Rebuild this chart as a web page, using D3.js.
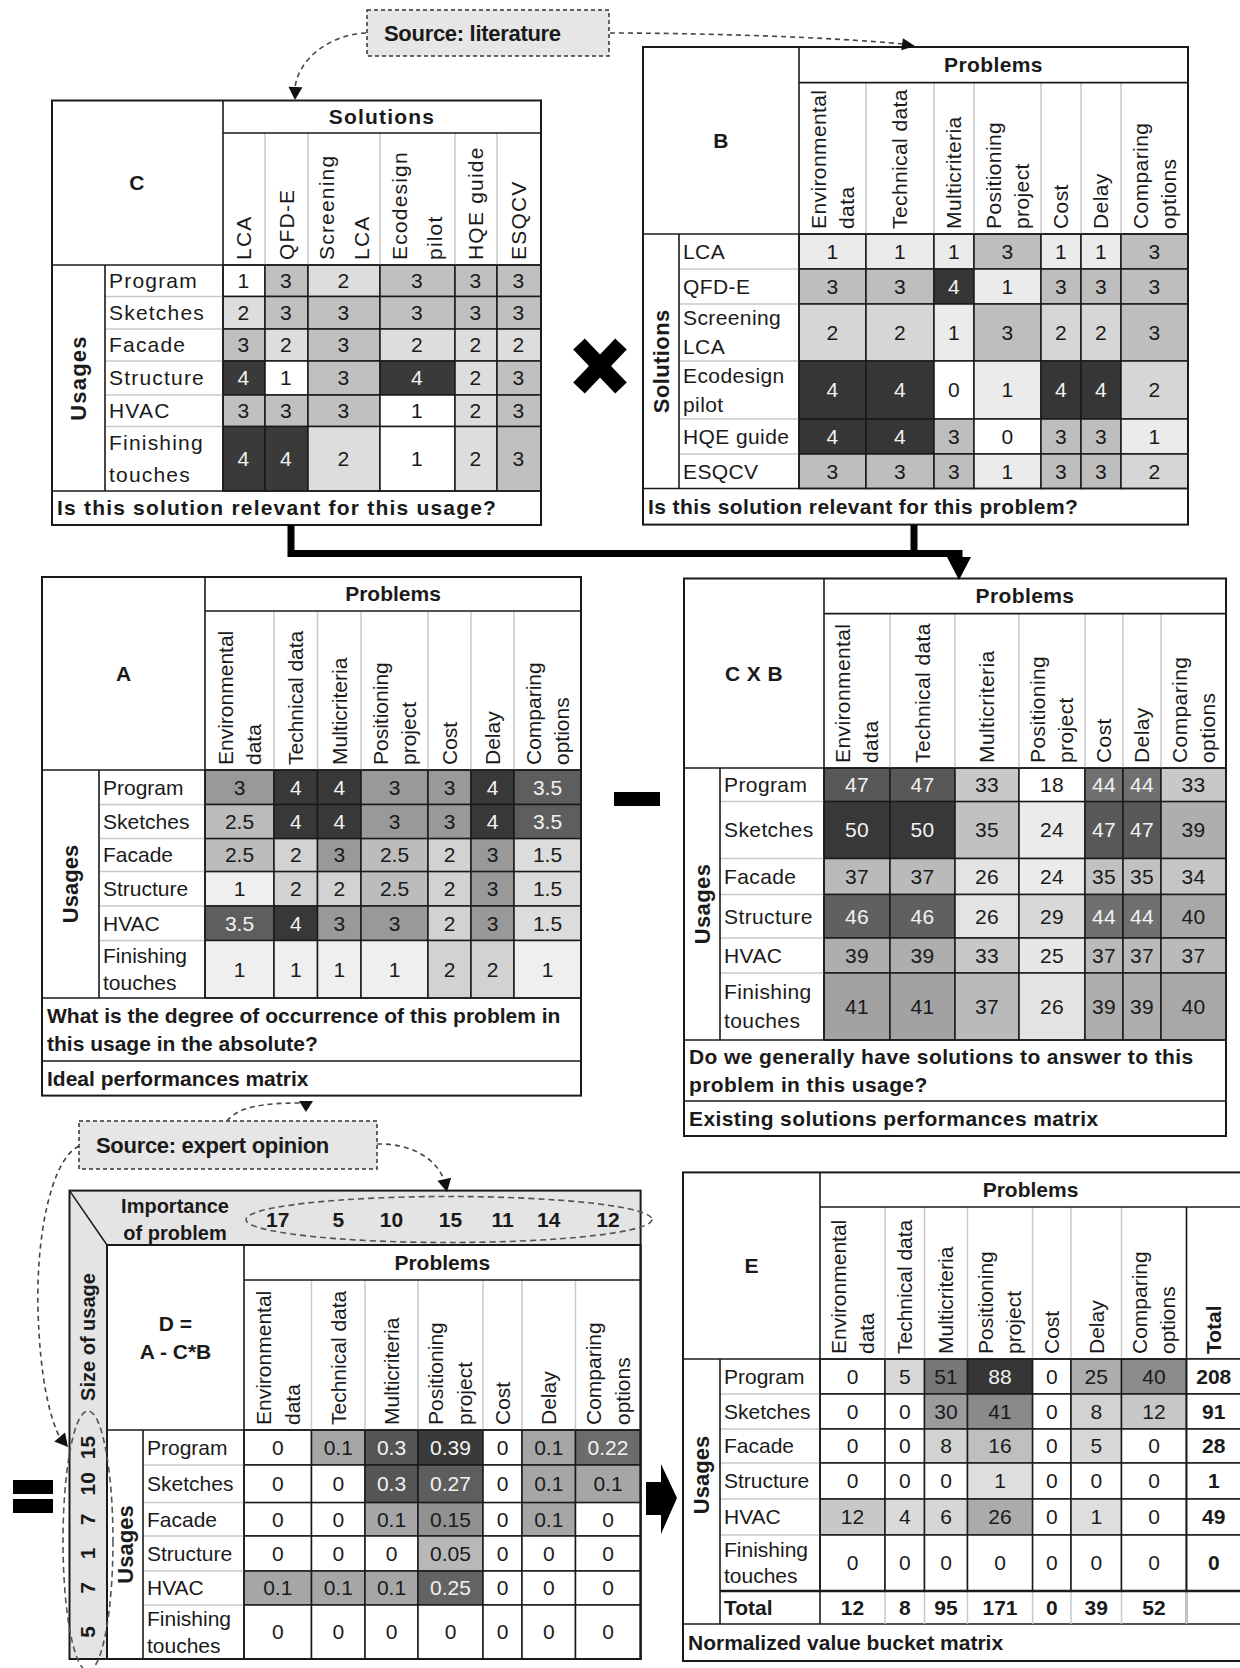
<!DOCTYPE html>
<html>
<head>
<meta charset="utf-8">
<script src="https://cdn.jsdelivr.net/npm/d3@7"></script>
<style>
body { margin: 0; background: #fff; }
svg text { font-family: "Liberation Sans", Arial, sans-serif; font-size: 21px; fill: #1a1a1a; }
</style>
</head>
<body>
<svg width="1240" height="1668"></svg>
<script>
// ---- data ----
var problemLabels = [["Environmental", "data"], ["Technical data"], ["Multicriteria"], ["Positioning", "project"], ["Cost"], ["Delay"], ["Comparing", "options"]];
var solutionLabels = [["LCA"], ["QFD-E"], ["Screening", "LCA"], ["Ecodesign", "pilot"], ["HQE guide"], ["ESQCV"]];
var usageLabels = [["Program"], ["Sketches"], ["Facade"], ["Structure"], ["HVAC"], ["Finishing", "touches"]];

// C: usages x solutions
var matrixC = [
    [1, 3, 2, 3, 3, 3],
    [2, 3, 3, 3, 3, 3],
    [3, 2, 3, 2, 2, 2],
    [4, 1, 3, 4, 2, 3],
    [3, 3, 3, 1, 2, 3],
    [4, 4, 2, 1, 2, 3]
];
// B: solutions x problems
var matrixB = [
    [1, 1, 1, 3, 1, 1, 3],
    [3, 3, 4, 1, 3, 3, 3],
    [2, 2, 1, 3, 2, 2, 3],
    [4, 4, 0, 1, 4, 4, 2],
    [4, 4, 3, 0, 3, 3, 1],
    [3, 3, 3, 1, 3, 3, 2]
];
// A: usages x problems
var matrixA = [
    [3, 4, 4, 3, 3, 4, 3.5],
    [2.5, 4, 4, 3, 3, 4, 3.5],
    [2.5, 2, 3, 2.5, 2, 3, 1.5],
    [1, 2, 2, 2.5, 2, 3, 1.5],
    [3.5, 4, 3, 3, 2, 3, 1.5],
    [1, 1, 1, 1, 2, 2, 1]
];
// C x B
var matrixCxB = [
    [47, 47, 33, 18, 44, 44, 33],
    [50, 50, 35, 24, 47, 47, 39],
    [37, 37, 26, 24, 35, 35, 34],
    [46, 46, 26, 29, 44, 44, 40],
    [39, 39, 33, 25, 37, 37, 37],
    [41, 41, 37, 26, 39, 39, 40]
];
// D = A - C*B
var matrixD = [
    [0, 0.1, 0.3, 0.39, 0, 0.1, 0.22],
    [0, 0, 0.3, 0.27, 0, 0.1, 0.1],
    [0, 0, 0.1, 0.15, 0, 0.1, 0],
    [0, 0, 0, 0.05, 0, 0, 0],
    [0.1, 0.1, 0.1, 0.25, 0, 0, 0],
    [0, 0, 0, 0, 0, 0, 0]
];
var importance = [17, 5, 10, 15, 11, 14, 12];
var usageSize = [15, 10, 7, 1, 7, 5];
// E
var matrixE = [
    [0, 5, 51, 88, 0, 25, 40],
    [0, 0, 30, 41, 0, 8, 12],
    [0, 0, 8, 16, 0, 5, 0],
    [0, 0, 0, 1, 0, 0, 0],
    [12, 4, 6, 26, 0, 1, 0],
    [0, 0, 0, 0, 0, 0, 0]
];
var eRowTotals = [208, 91, 28, 1, 49, 0];
var eColTotals = [12, 8, 95, 171, 0, 39, 52];

var footerC = ["Is this solution relevant for this usage?"];
var footerB = ["Is this solution relevant for this problem?"];
var footerA = [["What is the degree of occurrence of this problem in", "this usage in the absolute?"], ["Ideal performances matrix"]];
var footerCxB = [["Do we generally have solutions to answer to this", "problem in this usage?"], ["Existing solutions performances matrix"]];
var footerE = ["Normalized value bucket matrix"];

// ---- grey ramps (conditional shading) ----
var colorC = d3.scaleLinear().domain([1, 2, 3, 4]).range(["#ffffff", "#dddddd", "#c0c0c0", "#3a3a3a"]).clamp(true);
var colorB = d3.scaleLinear().domain([0, 1, 2, 3, 4]).range(["#ffffff", "#ebebeb", "#d6d6d6", "#bebebe", "#363636"]).clamp(true);
var colorA = d3.scaleLinear().domain([1, 1.5, 2, 2.5, 3, 3.5, 4])
    .range(["#efefef", "#dcdcdc", "#d2d2d2", "#bcbcbc", "#999999", "#5e5e5e", "#383838"]).clamp(true);
var colorCxB = d3.scaleLinear().domain([18, 24, 29, 33, 37, 41, 44, 47, 50])
    .range(["#ffffff", "#ebebeb", "#d8d8d8", "#c8c8c8", "#bababa", "#a2a2a2", "#707070", "#585858", "#383838"]).clamp(true);
var colorD = function (v) {
    return v === 0 ? "#ffffff" : dRamp(v);
};
var dRamp = d3.scaleLinear().domain([0.05, 0.1, 0.15, 0.22, 0.3, 0.39])
    .range(["#b8b8b8", "#a6a6a6", "#919191", "#6c6c6c", "#555555", "#3a3a3a"]).clamp(true);
var colorE = d3.scaleLinear().domain([0, 1, 5, 8, 12, 16, 26, 30, 41, 51, 88])
    .range(["#ffffff", "#dedede", "#d8d8d8", "#d2d2d2", "#c8c8c8", "#bfbfbf", "#ababab", "#9c9c9c", "#8a8a8a", "#777777", "#363636"]).clamp(true);

var svg = d3.select("svg");
var LIGHT = "#c9c9c9", DARK = "#1a1a1a";

function textFill(c) {
    return d3.hsl(c).l < 0.45 ? "#f2f2f2" : DARK;
}

function vText(g, x, y, str, anchor, bold) {
    return g.append("text")
        .attr("transform", "translate(" + x + "," + y + ") rotate(-90)")
        .attr("text-anchor", anchor)
        .attr("dy", "0.35em")
        .style("font-weight", bold ? "bold" : null)
        .text(str);
}

function drawMatrix(cfg) {
    var g = svg.append("g").style("letter-spacing", (cfg.spacing || 0) + "px");
    var x = d3.scaleLinear().domain(d3.range(cfg.colEdges.length)).range(cfg.colEdges),
        y = d3.scaleLinear().domain(d3.range(cfg.rowEdges.length)).range(cfg.rowEdges);
    var right = cfg.right || cfg.colEdges[cfg.colEdges.length - 1],
        dataBottom = cfg.dataBottom || cfg.rowEdges[cfg.rowEdges.length - 1],
        bottom = cfg.footers.length ? cfg.footers[cfg.footers.length - 1].y1 : dataBottom;

    g.append("rect")
        .attr("x", cfg.left).attr("y", cfg.top)
        .attr("width", right - cfg.left).attr("height", bottom - cfg.top)
        .attr("fill", "#fff");

    var cells = [];
    cfg.values.forEach((row, r) => row.forEach((v, c) => cells.push({ r: r, c: c, v: v })));

    g.selectAll(".cell").data(cells).enter().append("rect")
        .attr("class", "cell")
        .attr("x", d => x(d.c)).attr("y", d => y(d.r))
        .attr("width", d => x(d.c + 1) - x(d.c))
        .attr("height", d => y(d.r + 1) - y(d.r))
        .attr("fill", d => cfg.color(d.v))
        .attr("stroke", DARK).attr("stroke-width", 1.5);

    // light separators in header and label column
    g.selectAll(".hsep").data(d3.range(1, cfg.colLabels.length)).enter().append("line")
        .attr("x1", d => x(d)).attr("x2", d => x(d))
        .attr("y1", cfg.titleRowBottom).attr("y2", cfg.headerBottom)
        .attr("stroke", LIGHT).attr("stroke-width", 1.5);
    g.selectAll(".rsep").data(d3.range(1, cfg.rowLabels.length)).enter().append("line")
        .attr("x1", cfg.sideRight).attr("x2", cfg.labelRight)
        .attr("y1", d => y(d)).attr("y2", d => y(d))
        .attr("stroke", LIGHT).attr("stroke-width", 1.5);

    var frame = [
        [cfg.labelRight, cfg.titleRowBottom, right, cfg.titleRowBottom],
        [cfg.left, cfg.headerBottom, right, cfg.headerBottom],
        [cfg.labelRight, cfg.top, cfg.labelRight, dataBottom],
        [cfg.sideRight, cfg.headerBottom, cfg.sideRight, dataBottom]
    ];
    cfg.footers.forEach(f => frame.push([cfg.left, f.y0, right, f.y0]));
    g.selectAll(".frame").data(frame).enter().append("line")
        .attr("x1", d => d[0]).attr("y1", d => d[1]).attr("x2", d => d[2]).attr("y2", d => d[3])
        .attr("stroke", DARK).attr("stroke-width", 1.6);

    g.append("rect")
        .attr("x", cfg.left).attr("y", cfg.top)
        .attr("width", right - cfg.left).attr("height", bottom - cfg.top)
        .attr("fill", "none").attr("stroke", DARK).attr("stroke-width", 2);

    // corner title
    var tcx = (cfg.left + cfg.labelRight) / 2, tcy = (cfg.top + cfg.headerBottom) / 2;
    cfg.title.forEach((t, i) => {
        g.append("text")
            .attr("x", tcx).attr("y", tcy + (i - (cfg.title.length - 1) / 2) * 28)
            .attr("dy", "0.35em").attr("text-anchor", "middle")
            .style("font-weight", "bold").text(t);
    });
    // group title
    g.append("text")
        .attr("x", (cfg.labelRight + right) / 2).attr("y", (cfg.top + cfg.titleRowBottom) / 2)
        .attr("dy", "0.35em").attr("text-anchor", "middle")
        .style("font-weight", "bold").text(cfg.groupTitle);
    // side title
    vText(g, (cfg.left + cfg.sideRight) / 2, cfg.sideCenter || (cfg.headerBottom + dataBottom) / 2,
        cfg.sideTitle, "middle", true).style("font-size", "22px");

    // column headers
    cfg.colLabels.forEach((lines, i) => {
        var cx = (x(i) + x(i + 1)) / 2;
        lines.forEach((s, k) => {
            vText(g, cx + (k - (lines.length - 1) / 2) * cfg.headerGap, cfg.headerBottom - 5, s, "start");
        });
    });
    // row labels
    cfg.rowLabels.forEach((lines, i) => {
        var cy = (y(i) + y(i + 1)) / 2;
        lines.forEach((s, k) => {
            g.append("text")
                .attr("x", cfg.sideRight + 4).attr("y", cy + (k - (lines.length - 1) / 2) * cfg.rowGap)
                .attr("dy", "0.35em").text(s);
        });
    });
    // cell values
    g.selectAll(".val").data(cells).enter().append("text")
        .attr("x", d => (x(d.c) + x(d.c + 1)) / 2)
        .attr("y", d => (y(d.r) + y(d.r + 1)) / 2)
        .attr("dy", "0.35em").attr("text-anchor", "middle")
        .style("fill", d => textFill(cfg.color(d.v)))
        .text(d => d.v);
    // footers
    cfg.footers.forEach(f => {
        var cy = (f.y0 + f.y1) / 2;
        f.lines.forEach((s, k) => {
            g.append("text")
                .attr("x", cfg.left + 5).attr("y", cy + (k - (f.lines.length - 1) / 2) * 28)
                .attr("dy", "0.35em").style("font-weight", "bold").text(s);
        });
    });
    return { g: g, x: x, y: y, right: right, dataBottom: dataBottom };
}

// ---- matrices ----
drawMatrix({
    left: 52, sideRight: 105, labelRight: 223, colEdges: [223, 265, 308, 380, 455, 497, 541],
    top: 100.5, titleRowBottom: 133, headerBottom: 265, rowEdges: [265, 296.5, 329, 361, 395, 426.5, 491],
    footers: [{ y0: 491, y1: 525, lines: footerC }],
    title: ["C"], groupTitle: "Solutions", sideTitle: "Usages",
    colLabels: solutionLabels, rowLabels: usageLabels, values: matrixC, color: colorC,
    spacing: 1.2, headerGap: 35, rowGap: 32
});

drawMatrix({
    left: 643, sideRight: 679, labelRight: 799, colEdges: [799, 866, 934, 974, 1041, 1081, 1121, 1188],
    top: 47, titleRowBottom: 82.6, headerBottom: 234, rowEdges: [234, 269, 304, 361, 419, 454, 488.5],
    footers: [{ y0: 488.5, y1: 524.6, lines: footerB }],
    title: ["B"], groupTitle: "Problems", sideTitle: "Solutions",
    colLabels: problemLabels, rowLabels: solutionLabels, values: matrixB, color: colorB,
    spacing: 0.4, headerGap: 28, rowGap: 29
});

drawMatrix({
    left: 42, sideRight: 99, labelRight: 205, colEdges: [205, 274, 317.5, 361, 428, 471, 514, 581],
    top: 577, titleRowBottom: 611, headerBottom: 770, rowEdges: [770, 804.5, 838.6, 871.6, 906, 940.5, 998],
    footers: [{ y0: 998, y1: 1061, lines: footerA[0] }, { y0: 1061, y1: 1095.6, lines: footerA[1] }],
    title: ["A"], groupTitle: "Problems", sideTitle: "Usages",
    colLabels: problemLabels, rowLabels: usageLabels, values: matrixA, color: colorA,
    spacing: 0, headerGap: 28, rowGap: 27
});

drawMatrix({
    left: 684, sideRight: 720, labelRight: 824, colEdges: [824, 890, 955, 1019, 1085, 1123, 1161, 1226],
    top: 578.5, titleRowBottom: 613.6, headerBottom: 768, rowEdges: [768, 801.6, 858.5, 894.5, 938, 973, 1040],
    footers: [{ y0: 1040, y1: 1101, lines: footerCxB[0] }, { y0: 1101, y1: 1136, lines: footerCxB[1] }],
    title: ["C X B"], groupTitle: "Problems", sideTitle: "Usages",
    colLabels: problemLabels, rowLabels: usageLabels, values: matrixCxB, color: colorCxB,
    spacing: 0.4, headerGap: 28, rowGap: 29
});

// D with importance row and usage size column
var dOuter = { x0: 69.5, y0: 1190.6, x1: 640.6, y1: 1659, ix: 107, iy: 1245 };
svg.append("path")
    .attr("d", "M" + dOuter.x0 + "," + dOuter.y0 + "H" + dOuter.x1 + "V" + dOuter.iy + "H" + dOuter.ix +
        "V" + dOuter.y1 + "H" + dOuter.x0 + "Z")
    .attr("fill", "#e4e4e4");
var mD = drawMatrix({
    left: 107, sideRight: 143, labelRight: 244, colEdges: [244, 311.5, 365, 418, 483, 522, 575.5, 640.6],
    top: 1245, titleRowBottom: 1280, headerBottom: 1430, rowEdges: [1430, 1465, 1502.6, 1536, 1571, 1605, 1659],
    footers: [],
    title: ["D =", "A - C*B"], groupTitle: "Problems", sideTitle: "Usages",
    colLabels: problemLabels, rowLabels: usageLabels, values: matrixD, color: colorD,
    spacing: 0, headerGap: 29, rowGap: 27
});
var gD = svg.append("g");
gD.append("rect")
    .attr("x", dOuter.x0).attr("y", dOuter.y0)
    .attr("width", dOuter.x1 - dOuter.x0).attr("height", dOuter.y1 - dOuter.y0)
    .attr("fill", "none").attr("stroke", DARK).attr("stroke-width", 2);
gD.append("line")
    .attr("x1", dOuter.x0).attr("y1", dOuter.y0).attr("x2", dOuter.ix).attr("y2", dOuter.iy)
    .attr("stroke", DARK).attr("stroke-width", 1.5);
["Importance", "of problem"].forEach((s, k) => {
    gD.append("text").attr("x", 175).attr("y", 1206 + k * 27).attr("dy", "0.35em")
        .attr("text-anchor", "middle").style("font-weight", "bold").style("font-size", "20px").text(s);
});
gD.selectAll(".imp").data(importance).enter().append("text")
    .attr("x", (d, i) => (mD.x(i) + mD.x(i + 1)) / 2).attr("y", 1219.5)
    .attr("dy", "0.35em").attr("text-anchor", "middle").style("font-weight", "bold")
    .text(d => d);
vText(gD, 88, 1337, "Size of usage", "middle", true).style("font-size", "20px");
usageSize.forEach((v, i) => {
    vText(gD, 88, (mD.y(i) + mD.y(i + 1)) / 2, v, "middle", true);
});

// E with totals
var mE = drawMatrix({
    left: 683, sideRight: 720, labelRight: 820, colEdges: [820, 885, 924.5, 967.5, 1032.6, 1071, 1121.5, 1186.5],
    right: 1241, dataBottom: 1624, sideCenter: 1475,
    top: 1172.4, titleRowBottom: 1207, headerBottom: 1359, rowEdges: [1359, 1394, 1429, 1463, 1499, 1535, 1591],
    footers: [{ y0: 1624, y1: 1661, lines: footerE }],
    title: ["E"], groupTitle: "Problems", sideTitle: "Usages",
    colLabels: problemLabels, rowLabels: usageLabels, values: matrixE, color: colorE,
    spacing: 0, headerGap: 28, rowGap: 26
});
var gE = mE.g, tx0 = mE.x(7), tx1 = mE.right;
gE.selectAll(".tcell").data(eRowTotals).enter().append("rect")
    .attr("x", tx0).attr("y", (d, i) => mE.y(i))
    .attr("width", tx1 - tx0).attr("height", (d, i) => mE.y(i + 1) - mE.y(i))
    .attr("fill", "#fff").attr("stroke", DARK).attr("stroke-width", 1.5);
gE.selectAll(".tval").data(eRowTotals).enter().append("text")
    .attr("x", (tx0 + tx1) / 2).attr("y", (d, i) => (mE.y(i) + mE.y(i + 1)) / 2)
    .attr("dy", "0.35em").attr("text-anchor", "middle").style("font-weight", "bold")
    .text(d => d);
gE.append("line").attr("x1", tx0).attr("x2", tx0).attr("y1", 1207).attr("y2", 1624)
    .attr("stroke", DARK).attr("stroke-width", 1.6);
vText(gE, (tx0 + tx1) / 2, 1354, "Total", "start", true);
gE.selectAll(".csep").data(d3.range(1, 8)).enter().append("line")
    .attr("x1", d => mE.x(d)).attr("x2", d => mE.x(d)).attr("y1", 1591).attr("y2", 1624)
    .attr("stroke", LIGHT).attr("stroke-width", 1.5);
gE.append("line").attr("x1", 720).attr("x2", tx1).attr("y1", 1591).attr("y2", 1591)
    .attr("stroke", DARK).attr("stroke-width", 2.5);
gE.append("text").attr("x", 724).attr("y", 1607.5).attr("dy", "0.35em")
    .style("font-weight", "bold").text("Total");
gE.selectAll(".ctot").data(eColTotals).enter().append("text")
    .attr("x", (d, i) => (mE.x(i) + mE.x(i + 1)) / 2).attr("y", 1607.5)
    .attr("dy", "0.35em").attr("text-anchor", "middle").style("font-weight", "bold")
    .text(d => d);

// ---- operators and connectors ----
var ops = svg.append("g");
ops.append("line").attr("x1", 579).attr("y1", 344).attr("x2", 621).attr("y2", 388)
    .attr("stroke", "#000").attr("stroke-width", 16);
ops.append("line").attr("x1", 621).attr("y1", 344).attr("x2", 579).attr("y2", 388)
    .attr("stroke", "#000").attr("stroke-width", 16);
ops.append("rect").attr("x", 614).attr("y", 792).attr("width", 46).attr("height", 14).attr("fill", "#000");
ops.append("rect").attr("x", 13).attr("y", 1480).attr("width", 40).attr("height", 14).attr("fill", "#000");
ops.append("rect").attr("x", 13).attr("y", 1499).attr("width", 40).attr("height", 14).attr("fill", "#000");
ops.append("polygon")
    .attr("points", "646,1482 661,1482 661,1464 677,1498 661,1534 661,1515 646,1515")
    .attr("fill", "#000");
ops.append("path").attr("d", "M291,525V553.5H959V560")
    .attr("fill", "none").attr("stroke", "#000").attr("stroke-width", 7);
ops.append("path").attr("d", "M914,525V553.5")
    .attr("fill", "none").attr("stroke", "#000").attr("stroke-width", 7);
ops.append("polygon").attr("points", "947,557 971,557 959,580").attr("fill", "#000");

// ---- sources and dashed arrows ----
var src = svg.append("g");
function sourceBox(x, y, w, h, label, tx) {
    src.append("rect").attr("x", x).attr("y", y).attr("width", w).attr("height", h)
        .attr("fill", "#e6e6e6").attr("stroke", "#333").attr("stroke-width", 1.5)
        .attr("stroke-dasharray", "4,3");
    src.append("text").attr("x", tx).attr("y", y + h / 2).attr("dy", "0.35em")
        .style("font-weight", "bold").style("font-size", "22px").style("letter-spacing", "-0.3px")
        .text(label);
}
function dashed(d) {
    src.append("path").attr("d", d).attr("fill", "none")
        .attr("stroke", "#444").attr("stroke-width", 1.6).attr("stroke-dasharray", "5,4");
}
function head(x, y, angDeg, len, half) {
    var a = angDeg * Math.PI / 180, bx = x - len * Math.cos(a), by = y - len * Math.sin(a),
        px = -Math.sin(a) * half, py = Math.cos(a) * half;
    src.append("polygon")
        .attr("points", [[x, y], [bx + px, by + py], [bx - px, by - py]].map(p => p.join(",")).join(" "))
        .attr("fill", "#111");
}
function dashedEllipse(cx, cy, rx, ry) {
    src.append("ellipse").attr("cx", cx).attr("cy", cy).attr("rx", rx).attr("ry", ry)
        .attr("fill", "none").attr("stroke", "#555").attr("stroke-width", 1.6).attr("stroke-dasharray", "6,4");
}

sourceBox(367, 10, 242, 46, "Source: literature", 384);
dashed("M366,33 C332,34 298,58 295,88");
head(295, 100, 92, 13, 7);
dashed("M610,33 C700,33 830,37 903,44");
head(915, 46, 8, 13, 6);

sourceBox(79, 1121, 298, 48, "Source: expert opinion", 96);
dashed("M227,1121 C238,1107 262,1103 300,1103");
head(306, 1112, 90, 11, 7);
dashed("M377,1144 C410,1143 436,1158 444,1180");
head(447, 1192, 78, 13, 7);
dashed("M79,1146 C50,1160 36,1240 38,1310 C40,1380 50,1418 60,1438");
head(68, 1447, 50, 13, 7);

dashedEllipse(449, 1219.5, 203, 23);
dashedEllipse(88, 1541, 25, 130);
</script>
</body>
</html>
